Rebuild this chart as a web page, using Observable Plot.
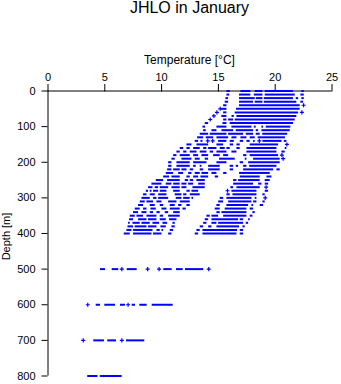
<!DOCTYPE html>
<html>
<head>
<meta charset="utf-8">
<script src="https://cdn.jsdelivr.net/npm/d3@7"></script>
<script src="https://cdn.jsdelivr.net/npm/@observablehq/plot@0.6"></script>
<style>
  html, body { margin: 0; padding: 0; background: #fff; }
  #wrap { position: relative; width: 341px; height: 384px; overflow: hidden;
          font-family: "Liberation Sans", Arial, sans-serif; color: #000; }
  #wrap svg { position: absolute; left: 0; top: 0; }
  .lbl { position: absolute; text-align: center; white-space: nowrap; }
  #title { left: 47.5px; width: 284px; top: -1px; font-size: 16px; line-height: 18px; }
  #xlabel { left: 47.5px; width: 284px; top: 53px; font-size: 12px; line-height: 14px; }
  #ylabel { left: -136.3px; top: 230px; width: 285px; height: 13px; font-size: 11px; line-height: 13px;
            transform: rotate(-90deg); }
</style>
</head>
<body>
<div id="wrap">
  <div id="chart"></div>
  <div class="lbl" id="title"></div>
  <div class="lbl" id="xlabel"></div>
  <div class="lbl" id="ylabel"></div>
</div>
<script>
const titleText = "JHLO in January";
const xLabelText = "Temperature [°C]";
const yLabelText = "Depth [m]";

const xTicks = [0, 5, 10, 15, 20, 25];
const yTicks = [0, 100, 200, 300, 400, 500, 600, 700, 800];

// depth levels (m)
const depths = [0, 10, 20, 30, 40, 50, 60, 70, 80, 90,
                100, 110, 120, 130, 140, 150, 160, 170, 180, 190,
                200, 210, 220, 230, 240, 250, 260, 270, 280, 290,
                300, 310, 320, 330, 340, 350, 360, 370, 380, 390,
                400, 500, 600, 700, 800];

// observed temperatures at each depth: "a-b" = run of overlapping observations, single value = isolated observation
const temps = [
  "15.75-16.05 16.98-17.86 18.24-18.92 19.12-21.6 22.35-22.56",
  "15.75-16.0 16.86-17.86 18.16-18.92 19.12-21.76 22.26-22.56",
  "15.66-15.9 16.86-18.24 18.33-18.92 19.04-21.6 21.85-22.06 22.35-22.56",
  "15.6-15.9 16.86-18.1 18.24-18.92 19.04-21.9 22.26-22.5",
  "15.46-15.75 16.86-22.2 22.5",
  "15.16 15.3-15.75 16.6-22.2",
  "14.87 15.46-15.75 16.48-22.06 22.35",
  "14.6 15.3-15.75 16.2-16.4 16.63-21.9",
  "14.28 15.46-15.75 15.9-16.34 16.48-21.76",
  "13.84-14.14 15.4-15.75 16.04-21.62",
  "13.64-13.87 14.87-15.75 16.19-17.95 18.16-18.33 18.83-18.98 19.21-21.38",
  "13.7-13.93 14.43-14.87 15.31-16.34 16.57-18.1 18.33-18.54 18.83-21.32",
  "13.4-14.14 14.28-15.75 15.9-17.22 17.45-18.1 18.33-18.68 18.9-21.1",
  "13.17-13.7 13.93-14.58 14.87-15.9 16.19-16.63 16.98-17.51 17.8-18.24 18.5-20.9",
  "12.96-13.26 13.46-13.64 14.06 14.5 15.02-15.75 16.04-16.4 16.92-17.22 17.51-17.8 18.1-18.24 18.6 18.92-20.6 20.8-21.03",
  "12.23-12.67 13.11-14.14 14.87-15.46 16.04-16.34 16.63-16.92 17.8-20.3 21.03",
  "11.64-11.94 12.23-12.52 12.82-13.4 13.7-13.99 14.14-14.87 15.16-15.6 15.75-16.04 16.63-16.92 17.51-20.15 20.88-21.03",
  "11.35-11.64 11.94-12.23 12.52-13.11 13.4-13.99 14.28-14.58 14.87-15.75 16.19-16.63 17.51-20.15 20.59-20.88",
  "11.06-11.35 11.64-12.52 12.82-13.26 13.55-14.14 14.58-15.16 15.46-15.9 17.22-17.51 17.8-20.3 20.59",
  "10.91-11.2 11.79-12.67 12.96-13.4 13.84-14.14 15.1-16.48 17.36-17.51 18.1-20.44 20.7",
  "10.62-10.91 11.35-12.52 12.82-13.99 14.87-15.75 16.92-17.22 17.66-20.44",
  "10.62-10.91 11.35-12.52 12.82-13.05 13.4-13.55 14.14-15.16 16.04-16.34 16.57-16.78 17.22-17.51 17.75-20.15",
  "10.53-10.91 11.06-11.64 11.79-12.23 12.52-12.82 13.4-13.7 14.14-15.16 16.04-16.34 17.22-19.86 20.15-20.44",
  "10.41-11.06 11.5-11.94 12.38-12.67 12.96-13.4 13.55-14.14 14.43-14.87 15.46-15.75 16.86-19.56",
  "10.18-10.7 10.91-11.64 12.23-12.52 12.82-13.26 13.46-14.14 14.72-15.02 16.92-18.68 19.27-19.71",
  "9.53-10.18 10.53-11.64 12.08-12.38 12.52-12.82 13.11-13.84 16.34-16.63 16.78-18.68 19.12-19.56",
  "9.15-10.03 10.41-10.91 11.06-11.64 11.79-12.23 12.38-12.82 13.26-13.84 16.34-18.1 18.54-18.83 19.12-19.42",
  "8.85-9.24 9.44-9.74 9.88-10.62 10.91-11.64 11.79-12.23 12.76-13.84 16.1-16.34 16.63-18.68 19.2",
  "8.65-8.85 9.0-9.15 9.29-9.74 9.88-10.47 11.06-11.64 12.23-12.52 12.67-13.26 15.8 16.19-18.39 19.12-19.42",
  "8.41-8.71 9.0-9.44 9.74-10.47 11.2-11.79 11.94-12.23 12.52-13.4 15.75-16.04 16.28-18.39 18.92-19.12",
  "8.27-9.0 9.29-9.59 9.74-10.62 11.29-11.79 11.94-12.52 12.67-12.82 15.16-15.46 15.75-17.95 18.24-18.39 19.12",
  "8.12-8.56 8.71-9.29 9.59-10.03 10.62-11.35 11.64-12.52 15.02-15.46 15.9-17.95 18.1-18.39 18.92-19.12",
  "7.97-8.41 9.0-9.44 9.88-10.18 10.76-11.2 11.5-11.79 12.23-12.52 14.87-15.16 15.75-17.66 17.95-18.1 18.68-18.98",
  "7.68-8.12 8.41-8.71 9.06-9.53 10.03-10.47 10.76-11.64 11.88-12.17 14.72-15.16 15.6-17.51 17.8-18.1",
  "7.53-7.97 8.27-8.71 9.0-9.29 9.59-9.88 10.32-10.62 11.06-11.64 14.87-15.16 15.31-17.51 18.04-18.24",
  "7.24-7.68 7.83-8.41 8.71-9.59 9.88-10.18 10.62-11.64 13.99-14.28 14.43-15.02 15.46-17.51 17.8-18.04",
  "7.18-7.53 7.97-8.71 8.85-9.59 9.88-10.41 10.7-11.35 13.84-14.14 14.43-16.78 16.92-17.22 17.66-17.8",
  "7.09-7.24 7.48-8.12 8.27-9.0 9.24-9.82 10.12-10.53 11.0-11.2 13.7-13.99 14.43-14.87 15.02-17.22 17.45-17.66",
  "7.04-7.53 7.68-8.71 8.85-9.59 9.94-10.41 10.91-11.2 13.4-13.7 14.14-14.43 14.87-16.86 17.16-17.36",
  "6.95-7.39 7.53-9.24 9.59-9.88 10.03-10.18 10.76-11.06 13.11-13.4 13.64-16.69 16.92-17.22",
  "6.71-7.24 7.53-9.15 9.29-10.03 10.62-10.91 12.96-13.26 13.64-16.63 16.92-17.22",
  "4.62-5.06 5.65-6.23 6.5 6.97-7.85 8.77 9.78 10.19-10.93 11.31-11.9 12.1-13.71 14.15",
  "3.5 4.24-4.62 5.0-5.94 6.38-6.82 7.05 7.41-7.7 8.08-8.73 9.17-11.02",
  "3.1 4.03-4.97 5.26-6.03 6.5 6.91-8.52",
  "3.5-4.4 4.6-6.53"
];

const runs = [];
const singles = [];
depths.forEach((d, i) => {
  temps[i].split(" ").forEach(tok => {
    const parts = tok.split("-").map(Number);
    if (parts.length === 1) singles.push({depth: d, t: parts[0]});
    else runs.push({depth: d, t1: parts[0], t2: parts[1]});
  });
});

const blue = "#0000ff";

const chart = Plot.plot({
  width: 341,
  height: 384,
  marginTop: 90.5,
  marginBottom: 8.5,
  marginLeft: 47.5,
  marginRight: 9.5,
  style: {fontFamily: "'Liberation Sans', Arial, sans-serif", fontSize: "11px", background: "transparent", color: "#000", overflow: "visible"},
  x: {domain: [0, 25]},
  y: {domain: [0, 800], reverse: true},
  marks: [
    Plot.axisX({anchor: "top", ticks: xTicks, tickSize: 7.5, tickPadding: 3, label: null, fontSize: 11, stroke: "#000"}),
    Plot.axisY({anchor: "left", ticks: yTicks, tickSize: 6, tickPadding: 6.5, label: null, fontSize: 11, stroke: "#000"}),
    Plot.ruleY([0], {stroke: "#000", strokeWidth: 1}),
    Plot.ruleX([0], {stroke: "#000", strokeWidth: 1}),
    Plot.ruleY(runs, {y: "depth", x1: "t1", x2: "t2", stroke: blue, strokeWidth: 2}),
    Plot.dot(singles, {x: "t", y: "depth", symbol: "plus", r: 1.4, stroke: blue, strokeWidth: 1.2})
  ]
});
document.getElementById("chart").appendChild(chart);
document.getElementById("title").textContent = titleText;
document.getElementById("xlabel").textContent = xLabelText;
document.getElementById("ylabel").textContent = yLabelText;
</script>
</body>
</html>
